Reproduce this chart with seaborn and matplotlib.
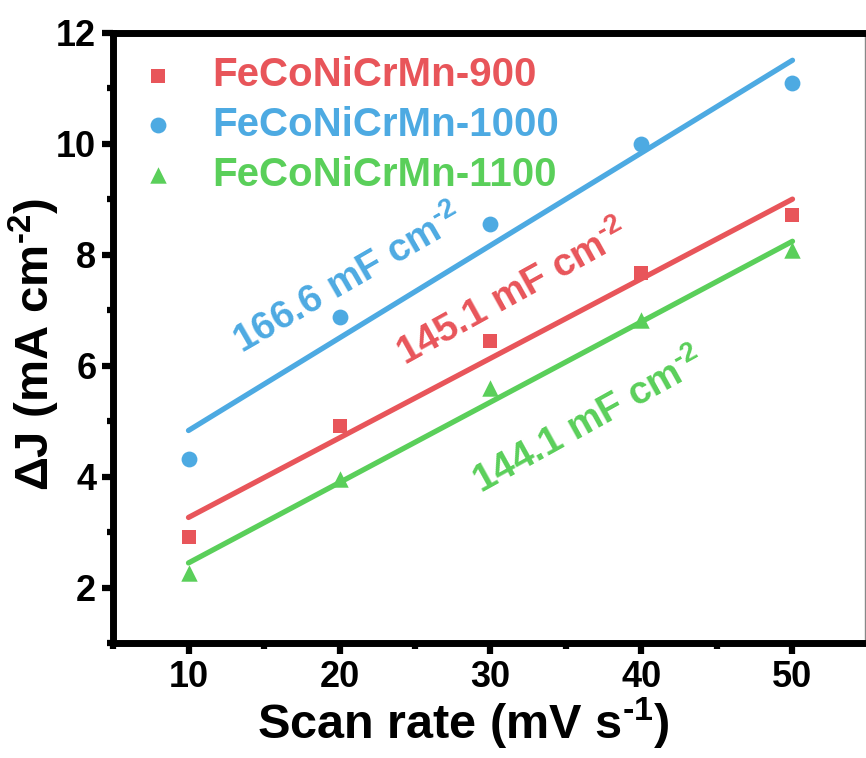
import numpy as np
import pandas as pd
import matplotlib
matplotlib.use("Agg")
import matplotlib.pyplot as plt
import seaborn as sns
from matplotlib.ticker import MultipleLocator

# ---- data ----
scan_rate = [10, 20, 30, 40, 50]
dj_900 = [2.92, 4.92, 6.44, 7.67, 8.72]
dj_1000 = [4.32, 6.87, 8.56, 10.00, 11.10]
dj_1100 = [2.27, 3.95, 5.59, 6.83, 8.08]
series_labels = ["FeCoNiCrMn-900", "FeCoNiCrMn-1000", "FeCoNiCrMn-1100"]
cap_labels = ["145.1 mF cm$^{\u20102}$", "166.6 mF cm$^{\u20102}$", "144.1 mF cm$^{\u20102}$"]
colors = ["#E8555A", "#4DAAE2", "#5ACF5A"]
markers = ["s", "o", "^"]
marker_sizes = [95, 130, 140]

sns.set_style("ticks")
plt.rcParams["font.family"] = ["Liberation Sans", "DejaVu Sans"]
plt.rcParams["font.weight"] = "bold"
plt.rcParams["mathtext.fontset"] = "custom"
plt.rcParams["mathtext.rm"] = "Liberation Sans:bold"
plt.rcParams["mathtext.it"] = "Liberation Sans:bold"
plt.rcParams["mathtext.bf"] = "Liberation Sans:bold"
plt.rcParams["mathtext.default"] = "rm"

fig = plt.figure(figsize=(8.66, 7.58), dpi=100)
ax = fig.add_axes([0.1305, 0.1517, 0.8683, 0.8048])

series = [dj_900, dj_1000, dj_1100]
for y, lab, c, m, s in zip(series, series_labels, colors, markers, marker_sizes):
    df = pd.DataFrame({"x": scan_rate, "y": y})
    sns.regplot(data=df, x="x", y="y", ax=ax, ci=None, color=c, marker=m,
                label=lab,
                scatter_kws={"s": s, "linewidths": 0, "alpha": 1, "zorder": 3},
                line_kws={"lw": 3.8, "solid_capstyle": "round", "zorder": 2})

ax.set_xlim(5, 54.8)
ax.set_ylim(1, 12)
ax.xaxis.set_major_locator(MultipleLocator(10))
ax.xaxis.set_minor_locator(MultipleLocator(5))
ax.yaxis.set_major_locator(MultipleLocator(2))
ax.yaxis.set_minor_locator(MultipleLocator(1))

for sp in ["left", "bottom", "top"]:
    ax.spines[sp].set_linewidth(5)
    ax.spines[sp].set_color("black")
ax.spines["right"].set_linewidth(1)
ax.spines["right"].set_color("#888888")

ax.tick_params(axis="both", which="major", direction="out", length=8, width=4.5,
               labelsize=26, pad=4, top=False, right=False,
               color="black", labelcolor="black")
ax.tick_params(axis="both", which="minor", direction="out", length=4, width=4.5,
               top=False, right=False, color="black")
for t in ax.get_xticklabels() + ax.get_yticklabels():
    t.set_fontweight("bold")

ax.set_xlabel("Scan rate (mV s$^{\u20101}$)", fontsize=35, fontweight="bold", color="black")
ax.set_ylabel("$\\Delta$J (mA cm$^{\u20102}$)", fontsize=34, fontweight="bold", color="black")
ax.xaxis.set_label_coords(0.466, -0.087)
ax.yaxis.set_label_coords(-0.068, 0.49)

leg = ax.legend(loc="upper left", bbox_to_anchor=(0.0326, 0.962), frameon=False,
                handlelength=1.0, handletextpad=0.86,
                labelspacing=0.29, borderpad=0, borderaxespad=0,
                prop={"weight": "bold", "size": 29})
for txt, c in zip(leg.get_texts(), colors):
    txt.set_color(c)

text_pos = [(31.5, 7.3, 29), (20.6, 7.55, 30), (36.5, 4.98, 29)]
for (tx, ty, rot), lab, c in zip(text_pos, cap_labels, colors):
    ax.text(tx, ty, lab, color=c, fontsize=28, fontweight="bold",
            rotation=rot, rotation_mode="anchor", ha="center", va="center")

fig.savefig("out.png", dpi=100)
